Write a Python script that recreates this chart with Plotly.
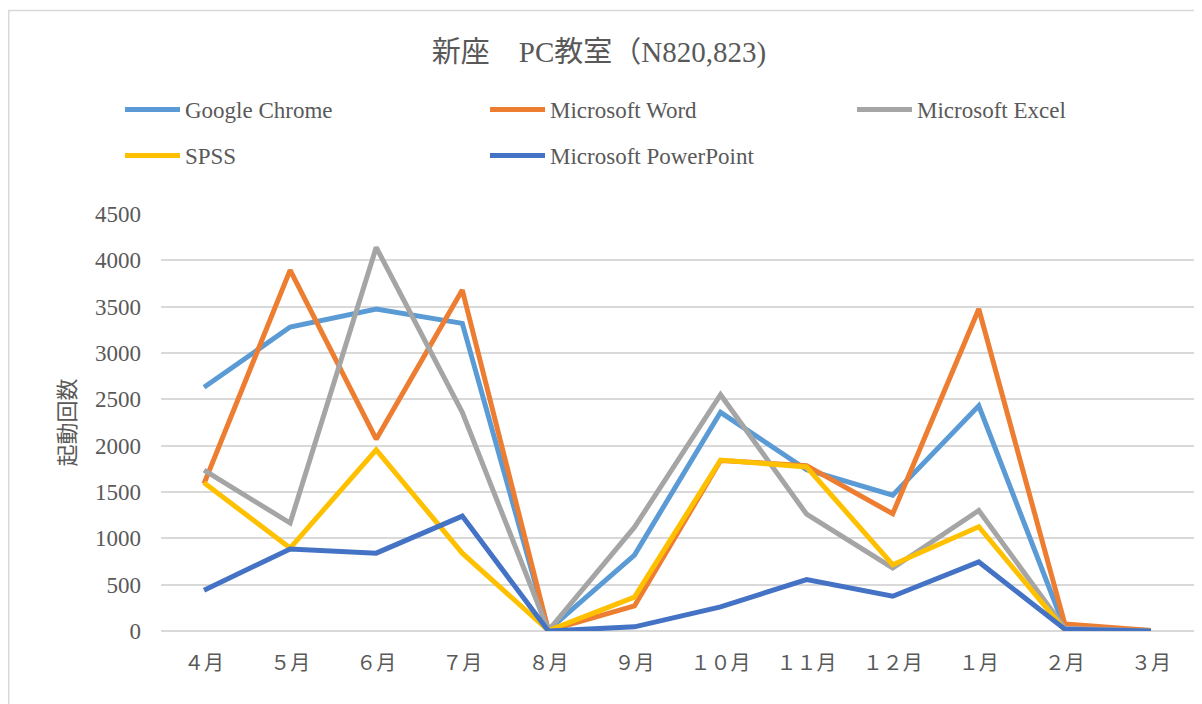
import plotly.graph_objects as go

months = ["４月", "５月", "６月", "７月", "８月", "９月", "１０月", "１１月", "１２月", "１月", "２月", "３月"]

chrome = [2630, 3280, 3475, 3320, 10, 820, 2360, 1740, 1465, 2430, 30, 5]
word = [1590, 3895, 2070, 3680, 5, 270, 1840, 1785, 1265, 3475, 75, 5]
excel = [1735, 1165, 4140, 2360, 5, 1120, 2550, 1260, 680, 1300, 30, 0]
spss = [1600, 895, 1955, 840, 5, 365, 1845, 1770, 715, 1125, 10, 0]
powerpoint = [440, 885, 840, 1240, 0, 45, 260, 555, 375, 745, 20, 0]

series = [
    ("Google Chrome", chrome, "#5B9BD5"),
    ("Microsoft Word", word, "#ED7D31"),
    ("Microsoft Excel", excel, "#A5A5A5"),
    ("SPSS", spss, "#FFC000"),
    ("Microsoft PowerPoint", powerpoint, "#4472C4"),
]

FONT = "Liberation Serif, Noto Sans CJK JP, serif"
# the page body adds an 8px offset, so the figure is sized to end at the window edge
W, H = 1194, 696
ML, MR, MT, MB = 153, 8, 206, 73
PW, PH = W - ML - MR, H - MT - MB

def px_x(p):
    return (p - ML) / PW

def px_y(p):
    return (H - MB - p) / PH

# legend entry anchor positions (figure pixels): (left, top)
legend_pos = [(112, 80), (477, 80), (844, 80), (112, 126), (477, 126)]
legend_ids = ["legend", "legend2", "legend3", "legend4", "legend5"]

fig = go.Figure()
for (name, vals, color), lg in zip(series, legend_ids):
    fig.add_trace(go.Scatter(
        x=months, y=vals, name=name, mode="lines",
        line=dict(color=color, width=5), legend=lg,
    ))

legend_layout = {}
for lg, (lx, ly) in zip(legend_ids, legend_pos):
    legend_layout[lg] = dict(orientation="h", xanchor="left", yanchor="top",
                             x=px_x(lx), y=px_y(ly),
                             font=dict(size=23, color="#595959", family=FONT),
                             itemwidth=55, bgcolor="rgba(0,0,0,0)")

fig.update_layout(
    width=W, height=H,
    margin=dict(l=ML, r=MR, t=MT, b=MB),
    paper_bgcolor="white", plot_bgcolor="white",
    font=dict(family=FONT, color="#595959", size=20),
    title=dict(text="新座　PC教室（N820,823)", x=(599 - 8) / W, xanchor="center",
               y=1 - 44 / H, yanchor="middle",
               font=dict(size=29, color="#595959", family=FONT)),
    showlegend=True,
    **legend_layout,
    xaxis=dict(type="category", showgrid=False, showline=False, ticks="",
               tickfont=dict(size=20, color="#595959", family=FONT),
               range=[-0.5, 11.5], fixedrange=True, zeroline=False,
               automargin=False, ticklabelstandoff=18),
    yaxis=dict(range=[0, 4500], dtick=500, showgrid=True, gridcolor="#D9D9D9",
               gridwidth=1.5, zeroline=True, zerolinecolor="#D9D9D9", zerolinewidth=1.5,
               showline=False, ticks="", automargin=False, ticklabelstandoff=19,
               tickfont=dict(size=23, color="#595959", family=FONT),
               title=dict(text="起動回数", font=dict(size=22, color="#595959", family=FONT),
                          standoff=13)),
    shapes=[dict(type="rect", xref="paper", yref="paper",
                 x0=px_x(0.75), x1=px_x(1220), y0=px_y(730), y1=px_y(2.5),
                 line=dict(color="#D9D9D9", width=1.5), layer="below")],
)

fig.write_html("out.html")
